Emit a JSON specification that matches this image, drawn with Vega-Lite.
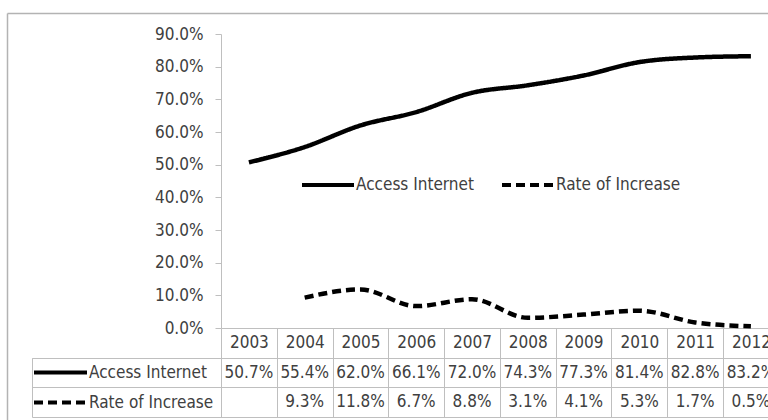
{
  "$schema": "https://vega.github.io/schema/vega-lite/v6.json",
  "width": 761,
  "height": 407,
  "autosize": {"type": "none"},
  "padding": {"left": 7, "top": 13, "right": 0, "bottom": 0},
  "background": "white",
  "config": {
    "view": {"stroke": null},
    "font": "DejaVu Sans Condensed",
    "axis": {"labelFont": "DejaVu Sans Condensed", "labelColor": "#404040", "labelFontSize": 17}
  },
  "data": {
    "values": [
      {"year": "2003", "series": "Access Internet", "value": 0.507},
      {"year": "2004", "series": "Access Internet", "value": 0.554},
      {"year": "2005", "series": "Access Internet", "value": 0.620},
      {"year": "2006", "series": "Access Internet", "value": 0.661},
      {"year": "2007", "series": "Access Internet", "value": 0.720},
      {"year": "2008", "series": "Access Internet", "value": 0.743},
      {"year": "2009", "series": "Access Internet", "value": 0.773},
      {"year": "2010", "series": "Access Internet", "value": 0.814},
      {"year": "2011", "series": "Access Internet", "value": 0.828},
      {"year": "2012", "series": "Access Internet", "value": 0.832},
      {"year": "2003", "series": "Rate of Increase", "value": null},
      {"year": "2004", "series": "Rate of Increase", "value": 0.093},
      {"year": "2005", "series": "Rate of Increase", "value": 0.118},
      {"year": "2006", "series": "Rate of Increase", "value": 0.067},
      {"year": "2007", "series": "Rate of Increase", "value": 0.088},
      {"year": "2008", "series": "Rate of Increase", "value": 0.031},
      {"year": "2009", "series": "Rate of Increase", "value": 0.041},
      {"year": "2010", "series": "Rate of Increase", "value": 0.053},
      {"year": "2011", "series": "Rate of Increase", "value": 0.017},
      {"year": "2012", "series": "Rate of Increase", "value": 0.005}
    ]
  },
  "layer": [
    {
      "mark": {"type": "line", "interpolate": "monotone", "strokeWidth": 4.5, "color": "black"},
      "encoding": {
        "x": {
          "field": "year", "type": "ordinal",
          "scale": {"type": "band", "range": [214, 771.8], "paddingInner": 0, "paddingOuter": 0},
          "axis": {"orient": "bottom", "offset": -92, "title": null, "tickBand": "extent", "tickSize": 89, "tickColor": "#bfbfbf", "domainColor": "#bfbfbf", "labelPadding": -74.2, "labelBaseline": "middle", "labelAngle": 0, "grid": false}
        },
        "y": {
          "field": "value", "type": "quantitative",
          "scale": {"domain": [0, 0.9], "range": [315, 21], "nice": false, "zero": false},
          "axis": {"orient": "left", "offset": -214, "values": [0, 0.1, 0.2, 0.3, 0.4, 0.5, 0.6, 0.7, 0.8, 0.9], "format": ".1%", "title": null, "grid": false, "tickSize": 6, "labelPadding": 12, "tickColor": "#bfbfbf", "domainColor": "#bfbfbf"}
        },
        "strokeDash": {
          "field": "series", "type": "nominal",
          "scale": {"domain": ["Access Internet", "Rate of Increase"], "range": [[1, 0], [9, 5]]},
          "legend": {"orient": "none", "legendX": 293, "legendY": 162, "direction": "horizontal", "title": null, "symbolType": "stroke", "symbolSize": 2704, "symbolStrokeWidth": 4, "symbolStrokeColor": "black", "labelFontSize": 17, "labelColor": "#404040", "labelOffset": 0, "columnPadding": 26, "clipHeight": 20, "padding": 0}
        }
      }
    },
    {
      "transform": [{"filter": "datum.value != null"}],
      "mark": {"type": "text", "fontSize": 17, "color": "#404040", "baseline": "middle"},
      "encoding": {
        "x": {
          "field": "year", "type": "ordinal",
          "scale": {"type": "band", "range": [214, 771.8], "paddingInner": 0, "paddingOuter": 0},
          "axis": null
        },
        "y": {
          "field": "series", "type": "nominal",
          "scale": {"type": "band", "domain": ["Access Internet", "Rate of Increase"], "range": [344.7, 404], "paddingInner": 0, "paddingOuter": 0},
          "axis": {"orient": "left", "offset": -25, "title": null, "labels": false, "tickBand": "extent", "tickSize": -746.8, "tickColor": "#bfbfbf", "domainColor": "#bfbfbf", "grid": false}
        },
        "text": {"field": "value", "type": "quantitative", "format": ".1%"}
      }
    },
    {
      "mark": {"type": "line", "opacity": 0, "strokeWidth": 4, "color": "black"},
      "encoding": {
        "x": {
          "field": "year", "type": "ordinal",
          "axis": {"orient": "top", "domain": true, "ticks": false, "labels": false, "title": null, "grid": false, "domainColor": "#b3b3b3", "domainWidth": 1.5}
        },
        "y": {
          "field": "value", "type": "quantitative",
          "axis": {"orient": "left", "domain": true, "ticks": false, "labels": false, "title": null, "grid": false, "domainColor": "#b3b3b3", "domainWidth": 1.5}
        },
        "strokeDash": {
          "field": "series", "type": "nominal",
          "scale": {"domain": ["Access Internet", "Rate of Increase"], "range": [[1, 0], [9, 5]]},
          "legend": {"orient": "none", "legendX": 25, "legendY": 344.7, "direction": "vertical", "title": null, "symbolType": "stroke", "symbolSize": 2809, "symbolStrokeWidth": 4, "symbolStrokeColor": "black", "symbolOpacity": 1, "labelFontSize": 17, "labelColor": "#404040", "labelOffset": 0, "rowPadding": 0, "clipHeight": 29.65, "padding": 0}
        }
      }
    }
  ],
  "resolve": {"scale": {"x": "independent", "y": "independent", "strokeDash": "independent"}}
}
